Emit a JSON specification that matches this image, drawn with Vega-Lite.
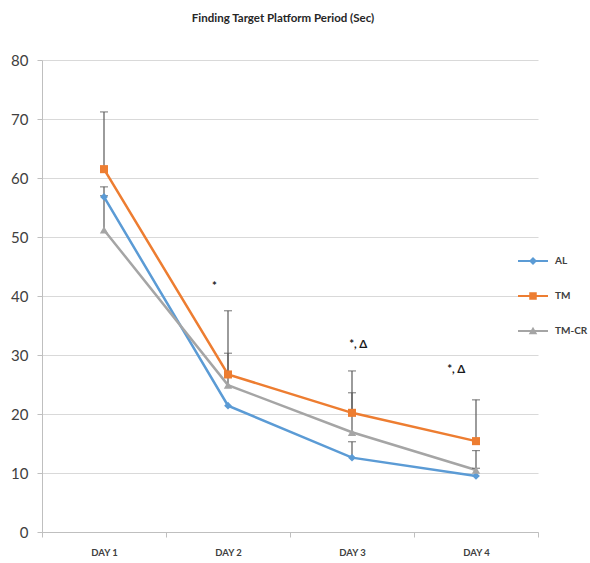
{
  "$schema": "https://vega.github.io/schema/vega-lite/v6.json",
  "width": 496,
  "height": 472,
  "autosize": {"type": "none"},
  "padding": {"left": 42, "top": 60, "right": 52, "bottom": 31},
  "title": {"text": "Finding Target Platform Period (Sec)", "font": "Lato", "fontSize": 11.5, "fontWeight": "bold", "color": "#262626", "offset": 29, "dx": -7},
  "config": {"view": {"stroke": null}, "font": "Lato"},
  "datasets": {
    "series": [
      {"series": "AL", "day": 1, "value": 56.8},
      {"series": "AL", "day": 2, "value": 21.4},
      {"series": "AL", "day": 3, "value": 12.6},
      {"series": "AL", "day": 4, "value": 9.5},
      {"series": "TM", "day": 1, "value": 61.5},
      {"series": "TM", "day": 2, "value": 26.7},
      {"series": "TM", "day": 3, "value": 20.2},
      {"series": "TM", "day": 4, "value": 15.4},
      {"series": "TM-CR", "day": 1, "value": 51.2},
      {"series": "TM-CR", "day": 2, "value": 24.9},
      {"series": "TM-CR", "day": 3, "value": 16.9},
      {"series": "TM-CR", "day": 4, "value": 10.5}
    ],
    "errors": [
      {"series": "AL", "day": 1, "value": 56.8, "upper": 58.5},
      {"series": "AL", "day": 3, "value": 12.6, "upper": 15.3},
      {"series": "AL", "day": 4, "value": 9.5, "upper": 10.8},
      {"series": "TM", "day": 1, "value": 61.5, "upper": 71.2},
      {"series": "TM", "day": 2, "value": 26.7, "upper": 37.5},
      {"series": "TM", "day": 3, "value": 20.2, "upper": 27.3},
      {"series": "TM", "day": 4, "value": 15.4, "upper": 22.4},
      {"series": "TM-CR", "day": 1, "value": 51.2, "upper": 57.0},
      {"series": "TM-CR", "day": 2, "value": 24.9, "upper": 30.3},
      {"series": "TM-CR", "day": 3, "value": 16.9, "upper": 23.6},
      {"series": "TM-CR", "day": 4, "value": 10.5, "upper": 13.8}
    ],
    "notes": [
      {"day": 1.89, "value": 41.6, "text": "*"},
      {"day": 3.05, "value": 31.7, "text": "*, Δ"},
      {"day": 3.84, "value": 27.5, "text": "*, Δ"}
    ]
  },
  "resolve": {"scale": {"shape": "independent", "fill": "independent"}, "axis": {"x": "independent", "y": "independent"}},
  "layer": [
    {
      "data": {"name": "series"},
      "mark": {"type": "line", "strokeWidth": 2.5},
      "encoding": {
        "x": {
          "field": "day", "type": "quantitative",
          "scale": {"domain": [0.5, 4.5], "nice": false, "zero": false},
          "axis": {
            "title": null,
            "values": [0.5, 1, 1.5, 2, 2.5, 3, 3.5, 4, 4.5],
            "labelExpr": "datum.value % 1 == 0 ? 'DAY ' + datum.value : ''",
            "tickOpacity": {"condition": {"test": "datum.value % 1 == 0", "value": 0}, "value": 1},
            "grid": false,
            "domainColor": "#bfbfbf",
            "tickColor": "#bfbfbf",
            "tickSize": 5,
            "labelFont": "Lato",
            "labelFontSize": 9.5,
            "labelFontWeight": "bold",
            "labelColor": "#404040",
            "labelPadding": 10,
            "labelFlush": false
          }
        },
        "y": {
          "field": "value", "type": "quantitative",
          "scale": {"domain": [0, 80], "nice": false},
          "axis": {
            "title": null,
            "values": [0, 10, 20, 30, 40, 50, 60, 70, 80],
            "grid": true,
            "gridColor": "#d9d9d9",
            "domainColor": "#bfbfbf",
            "tickColor": "#bfbfbf",
            "tickSize": 5,
            "labelFont": "Lato",
            "labelFontSize": 15,
            "labelColor": "#404040",
            "labelPadding": 9
          }
        },
        "color": {
          "field": "series", "type": "nominal",
          "scale": {"domain": ["AL", "TM", "TM-CR"], "range": ["#5b9bd5", "#ed7d31", "#a5a5a5"]},
          "legend": null
        }
      }
    },
    {
      "data": {"name": "errors"},
      "mark": {"type": "rule", "color": "#595959", "strokeWidth": 1.2},
      "encoding": {
        "x": {"field": "day", "type": "quantitative", "axis": null},
        "y": {"field": "value", "type": "quantitative", "axis": null},
        "y2": {"field": "upper"}
      }
    },
    {
      "data": {"name": "errors"},
      "mark": {"type": "tick", "orient": "horizontal", "color": "#595959", "size": 8, "thickness": 1.2},
      "encoding": {
        "x": {"field": "day", "type": "quantitative", "axis": null},
        "y": {"field": "upper", "type": "quantitative", "axis": null}
      }
    },
    {
      "data": {"name": "series"},
      "mark": {"type": "point", "filled": true, "opacity": 1},
      "encoding": {
        "x": {"field": "day", "type": "quantitative", "axis": null},
        "y": {"field": "value", "type": "quantitative", "axis": null},
        "color": {"field": "series", "type": "nominal", "legend": null},
        "size": {
          "field": "series", "type": "nominal",
          "scale": {"domain": ["AL", "TM", "TM-CR"], "range": [60, 70, 95]},
          "legend": null
        },
        "shape": {
          "field": "series", "type": "nominal",
          "scale": {"domain": ["AL", "TM", "TM-CR"], "range": ["diamond", "square", "triangle-up"]},
          "legend": null
        }
      }
    },
    {
      "data": {"name": "notes"},
      "mark": {"type": "text", "font": "Lato", "fontSize": 11.5, "fontWeight": "bold", "color": "#1a1a1a", "baseline": "middle", "align": "center"},
      "encoding": {
        "x": {"field": "day", "type": "quantitative", "axis": null},
        "y": {"field": "value", "type": "quantitative", "axis": null},
        "text": {"field": "text"}
      }
    },
    {
      "data": {"name": "series"},
      "transform": [{"filter": "false"}],
      "mark": {"type": "point", "filled": true, "opacity": 1, "strokeWidth": 0},
      "encoding": {
        "fill": {
          "field": "series", "type": "nominal",
          "scale": {"domain": ["AL", "TM", "TM-CR"], "range": ["#5b9bd5", "#ed7d31", "#a5a5a5"]},
          "legend": {
            "orient": "none",
            "legendX": 486,
            "legendY": 196,
            "title": null,
            "padding": 0,
            "symbolSize": 100,
            "symbolStrokeWidth": 0,
            "symbolOpacity": 1,
            "labelOffset": 17,
            "labelFont": "Lato",
            "labelFontSize": 10,
            "labelFontWeight": "bold",
            "labelColor": "#404040",
            "rowPadding": 25
          }
        },
        "shape": {
          "field": "series", "type": "nominal",
          "scale": {
            "domain": ["AL", "TM", "TM-CR"],
            "range": [
              "M-3,-0.2H3V0.2H-3Z M0,-0.8L0.8,0L0,0.8L-0.8,0Z",
              "M-3,-0.2H3V0.2H-3Z M-0.75,-0.75H0.75V0.75H-0.75Z",
              "M-3,-0.2H3V0.2H-3Z M0,-0.85L0.85,0.65H-0.85Z"
            ]
          },
          "legend": {
            "orient": "none",
            "legendX": 486,
            "legendY": 196,
            "title": null,
            "padding": 0,
            "symbolSize": 100,
            "symbolStrokeWidth": 0,
            "symbolOpacity": 1,
            "labelOffset": 17,
            "labelFont": "Lato",
            "labelFontSize": 10,
            "labelFontWeight": "bold",
            "labelColor": "#404040",
            "rowPadding": 25
          }
        }
      }
    }
  ]
}
